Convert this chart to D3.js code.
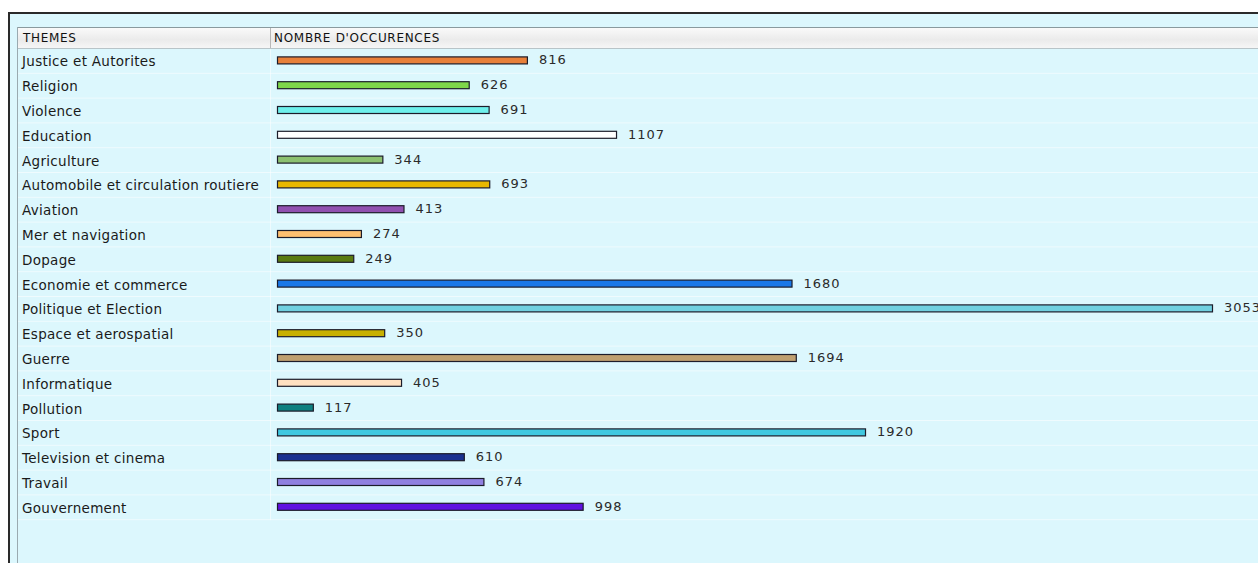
<!DOCTYPE html>
<meta charset="utf-8">
<head>
    <title>Themes</title>
    <script src="https://d3js.org/d3.v7.min.js"></script>
</head>

<style>
body { margin: 0; background: #ffffff; }
svg { display: block; }
.lbl { font-family: "DejaVu Sans", sans-serif; font-size: 13.5px; fill: #1a1a1a; letter-spacing: 0.3px; }
.val { font-family: "DejaVu Sans", sans-serif; font-size: 13px; fill: #2a2a2a; letter-spacing: 1px; }
.hdr { font-family: "DejaVu Sans", sans-serif; font-size: 12px; fill: #111; letter-spacing: 0.7px; }
</style>

<body>

<svg></svg>

<script>

let themes = ["Justice et Autorites", "Religion", "Violence", "Education", "Agriculture",
  "Automobile et circulation routiere", "Aviation", "Mer et navigation", "Dopage",
  "Economie et commerce", "Politique et Election", "Espace et aerospatial", "Guerre",
  "Informatique", "Pollution", "Sport", "Television et cinema", "Travail", "Gouvernement"];

let occurences = [816, 626, 691, 1107, 344, 693, 413, 274, 249, 1680, 3053, 350, 1694,
  405, 117, 1920, 610, 674, 998];

let colors = ["#e8803a", "#7ed64a", "#6ef0ec", "#ffffff", "#8cc070", "#e8b800", "#9050b0",
  "#ffc070", "#5a7a10", "#1a78e8", "#70d0e0", "#c8b000", "#c0a070", "#ffe0c0", "#108080",
  "#40c8e0", "#1a3090", "#9080e0", "#6010e0"];

let headers = ["THEMES", "NOMBRE D'OCCURENCES"];

let W = 1258, H = 563;
let rowTop = 49, rowH = 24.8;

let svg = d3.select("svg").attr("width", W).attr("height", H);

// window background + frame
svg.append("rect").attr("x", 8).attr("y", 12).attr("width", W - 8).attr("height", H - 12)
  .attr("fill", "#dcf7fd");
svg.append("line").attr("x1", 8).attr("x2", W).attr("y1", 13).attr("y2", 13)
  .attr("stroke", "#2a2a2a").attr("stroke-width", 2);
svg.append("line").attr("x1", 9).attr("x2", 9).attr("y1", 12).attr("y2", H)
  .attr("stroke", "#2a2a2a").attr("stroke-width", 2);
svg.append("line").attr("x1", 17.5).attr("x2", 17.5).attr("y1", 27).attr("y2", H)
  .attr("stroke", "#9aaab0").attr("stroke-width", 1);

// header
let grad = svg.append("defs").append("linearGradient").attr("id", "hg")
  .attr("x1", 0).attr("x2", 0).attr("y1", 0).attr("y2", 1);
grad.append("stop").attr("offset", "0%").attr("stop-color", "#fbfbfb");
grad.append("stop").attr("offset", "60%").attr("stop-color", "#ebebeb");
grad.append("stop").attr("offset", "100%").attr("stop-color", "#f6f6f6");
svg.append("rect").attr("x", 18).attr("y", 27).attr("width", W - 18).attr("height", 21)
  .attr("fill", "url(#hg)");
svg.append("line").attr("x1", 18).attr("x2", W).attr("y1", 27.5).attr("y2", 27.5)
  .attr("stroke", "#8a9a9e");
svg.append("line").attr("x1", 18).attr("x2", W).attr("y1", 48.5).attr("y2", 48.5)
  .attr("stroke", "#b8c4c8");
svg.append("line").attr("x1", 270.5).attr("x2", 270.5).attr("y1", 28).attr("y2", 48)
  .attr("stroke", "#b8b8b8");
svg.selectAll(".hdr").data(headers).enter().append("text")
  .attr("class", "hdr")
  .attr("x", (d, i) => i === 0 ? 23 : 274)
  .attr("y", 42)
  .text(d => d);

// scales
let y = d3.scaleBand().domain(themes).range([rowTop, rowTop + rowH * themes.length]);
let x = d3.scaleLinear().domain([0, 3053]).range([277, 1212]);

// row separators
svg.selectAll(".sep").data(themes).enter().append("line")
  .attr("x1", 18).attr("x2", W)
  .attr("y1", d => y(d) + y.bandwidth() - 0.5).attr("y2", d => y(d) + y.bandwidth() - 0.5)
  .attr("stroke", "#ffffff").attr("stroke-opacity", 0.55);
svg.append("line").attr("x1", 270.5).attr("x2", 270.5).attr("y1", rowTop).attr("y2", rowTop + rowH * themes.length)
  .attr("stroke", "#ffffff").attr("stroke-opacity", 0.5);

// labels
svg.selectAll(".lbl").data(themes).enter().append("text")
  .attr("class", "lbl")
  .attr("x", 22)
  .attr("y", d => y(d) + y.bandwidth() / 2 + 5)
  .text(d => d);

// bars
let data = themes.map((t, i) => ({ t: t, v: occurences[i], c: colors[i] }));
svg.selectAll(".bar").data(data).enter().append("rect")
  .attr("class", "bar")
  .attr("x", x(0) + 0.5)
  .attr("y", d => y(d.t) + y.bandwidth() / 2 - 4.5)
  .attr("width", d => x(d.v) - x(0))
  .attr("height", 7)
  .attr("fill", d => d.c)
  .attr("stroke", "#1c1c2a")
  .attr("stroke-width", 1.2);

svg.selectAll(".val").data(data).enter().append("text")
  .attr("class", "val")
  .attr("x", d => x(d.v) + 12)
  .attr("y", d => y(d.t) + y.bandwidth() / 2 + 3)
  .text(d => d.v);

</script>

</body>
